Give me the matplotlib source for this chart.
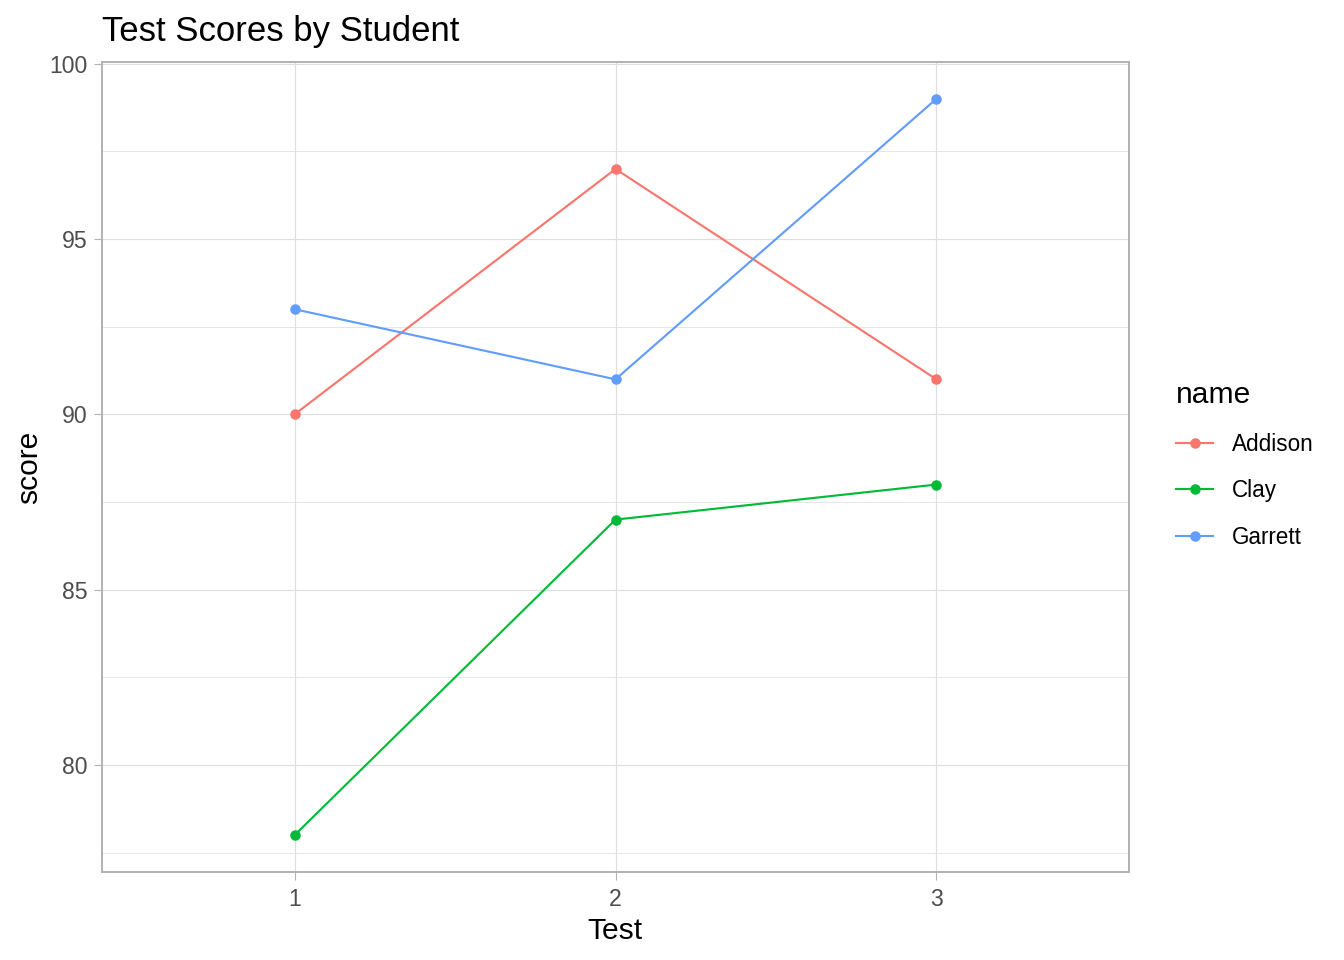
import matplotlib
matplotlib.use("Agg")
import matplotlib.pyplot as plt

# data
tests = [1, 2, 3]
addison = [90, 97, 91]
clay = [78, 87, 88]
garrett = [93, 91, 99]
names = ["Addison", "Clay", "Garrett"]
colors = ["#F8766D", "#00BA38", "#619CFF"]

plt.rcParams["font.family"] = ["Liberation Sans", "DejaVu Sans"]

W, H, DPI = 1344, 960, 180
fig = plt.figure(figsize=(W / DPI, H / DPI), dpi=DPI)
ax = fig.add_axes([102 / W, 1 - 872 / H, (1129 - 102) / W, (872 - 62) / H])

for vals, nm, c in zip([addison, clay, garrett], names, colors):
    ax.plot(tests, vals, color=c, lw=0.85, marker="o", ms=3.2, label=nm)

ax.set_xlim(0.4, 3.6)
ax.set_ylim(76.95, 100.05)
ax.set_xticks(tests)
ax.set_yticks([80, 85, 90, 95, 100])
ax.set_yticks([77.5, 82.5, 87.5, 92.5, 97.5], minor=True)

ax.grid(True, which="major", color="#DEDEDE", lw=0.45)
ax.grid(True, which="minor", axis="y", color="#DEDEDE", lw=0.3)
ax.set_axisbelow(True)
for s in ax.spines.values():
    s.set_color("#B3B3B3")
    s.set_linewidth(0.8)
ax.tick_params(which="major", length=3.2, width=0.45, color="#B3B3B3",
               labelsize=9.2, labelcolor="#4D4D4D", pad=3.2)
ax.tick_params(axis="y", which="major", pad=2.4)
ax.tick_params(which="minor", length=0)

fig.text(102 / W, 1 - 31 / H, "Test Scores by Student", fontsize=13.9,
         ha="left", va="center")
fig.text(615 / W, 1 - 931 / H, "Test", fontsize=12, ha="center", va="center")
fig.text(29 / W, 1 - 467 / H, "score", fontsize=12, rotation=90,
         ha="center", va="center")

leg = ax.legend(loc="upper left", bbox_to_anchor=(1167 / W, 1 - 372 / H),
                bbox_transform=fig.transFigure, frameon=False, title="name",
                fontsize=9, title_fontsize=12, handlelength=1.65,
                handletextpad=0.85, labelspacing=1.05, borderaxespad=0)
leg._legend_box.align = "left"

fig.savefig("out.png", dpi=DPI)
